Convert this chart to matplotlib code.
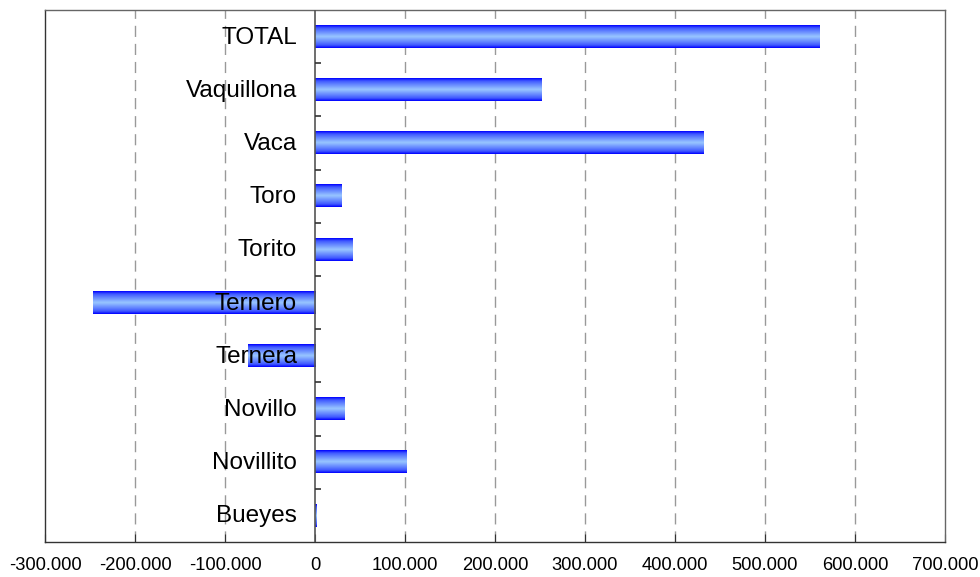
import matplotlib
matplotlib.use("Agg")
import matplotlib.pyplot as plt
import matplotlib.transforms as mtransforms
from matplotlib.ticker import FuncFormatter, FixedLocator
from matplotlib.colors import LinearSegmentedColormap
import numpy as np

plt.rcParams['font.family'] = ['Liberation Sans', 'DejaVu Sans']

categories = ["TOTAL", "Vaquillona", "Vaca", "Toro", "Torito", "Ternero",
              "Ternera", "Novillo", "Novillito", "Bueyes"]
values = [561000, 252000, 432000, 30000, 42000, -247000, -75000, 33000, 102000, 2000]
xticks = [-300000, -200000, -100000, 0, 100000, 200000, 300000, 400000, 500000, 600000, 700000]

fig = plt.figure(figsize=(9.8, 5.77), dpi=100)
ax = fig.add_axes([45/980, 35/577, 900/980, 532/577])

n = len(categories)
ypos = np.arange(n)
bar_h = 0.42

cmap = LinearSegmentedColormap.from_list("bargrad", [
    (0.0, (0.0, 0.0, 1.0)),
    (0.12, (0.25, 0.35, 1.0)),
    (0.5, (0.60, 0.78, 1.0)),
    (0.88, (0.25, 0.35, 1.0)),
    (1.0, (0.0, 0.0, 1.0)),
])
grad = np.linspace(0, 1, 64).reshape(-1, 1)

bars = ax.barh(ypos, values, height=bar_h, color='none', edgecolor='none', zorder=3)
for rect in bars:
    x0 = rect.get_x()
    w = rect.get_width()
    y0 = rect.get_y()
    h = rect.get_height()
    xa, xb = min(x0, x0 + w), max(x0, x0 + w)
    if xb - xa < 1500:
        xb = xa + 1500 if w >= 0 else xb
    ax.imshow(grad, cmap=cmap, aspect='auto', extent=[xa, xb, y0 + h, y0],
              zorder=3, interpolation='bilinear')

ax.set_xlim(-300000, 700000)
ax.set_ylim(n - 0.5, -0.5)

ax.xaxis.set_major_locator(FixedLocator(xticks))
ax.xaxis.set_major_formatter(FuncFormatter(lambda v, p: f"{int(v):,}".replace(",", ".")))
ax.tick_params(axis='x', direction='in', length=6, color='#333333', labelsize=13.2, pad=11)
ax.set_yticks([])

for xt in xticks[1:-1]:
    if xt != 0:
        ax.axvline(xt, color='#999999', linestyle=(0, (8, 5)), linewidth=1, zorder=1)

ax.axvline(0, color='#555555', linewidth=1.2, zorder=4)
bounds = np.arange(n - 1) + 0.5
ax.hlines(bounds, 0, 7000, color='#333333', linewidth=1.2, zorder=4)

offset = mtransforms.offset_copy(ax.transData, fig=fig, x=-18, y=-1, units='dots')
for y, lab in zip(ypos, categories):
    ax.text(0, y, lab, transform=offset, ha='right', va='center', fontsize=17.5,
            color='black', zorder=5)

for sp in ax.spines.values():
    sp.set_color('#666666')
    sp.set_linewidth(1.0)
ax.spines['bottom'].set_color('#333333')
ax.spines['left'].set_color('#333333')

fig.savefig("out.png", dpi=100)
